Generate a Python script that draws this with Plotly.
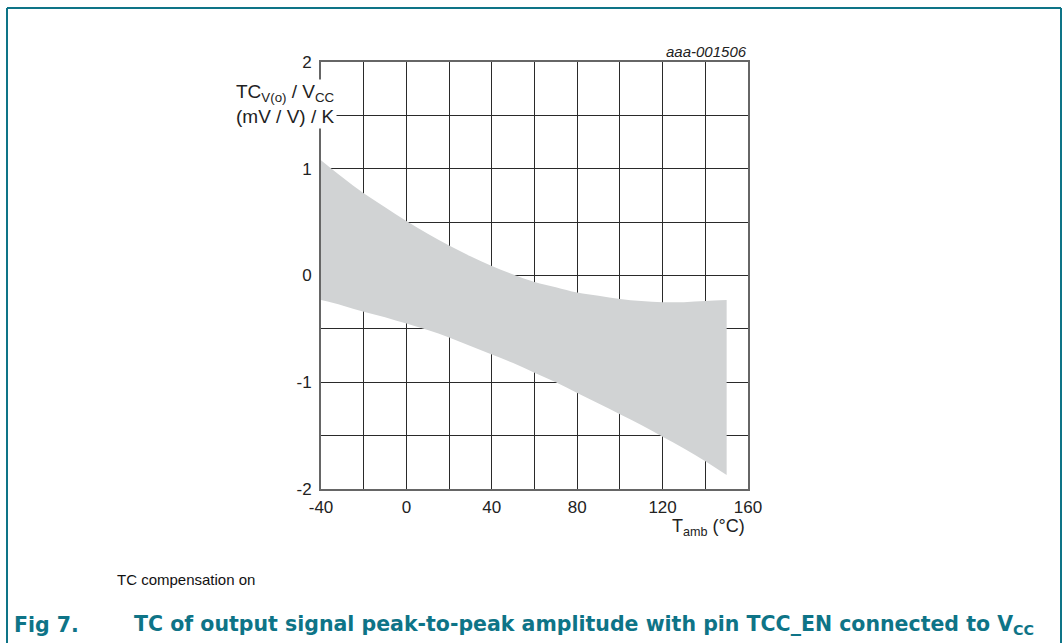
import plotly.graph_objects as go

# Data
temp = [-40, -30, -20, -10, 0, 10, 20, 30, 40, 50, 60, 70, 80, 90, 100, 110, 120, 130, 140, 150]
upper = [1.08, 0.92, 0.77, 0.64, 0.51, 0.39, 0.28, 0.18, 0.09, 0.01, -0.06, -0.11, -0.16, -0.19, -0.22, -0.24, -0.25, -0.25, -0.24, -0.23]
lower = [-0.23, -0.28, -0.34, -0.39, -0.45, -0.51, -0.58, -0.66, -0.74, -0.82, -0.91, -1.00, -1.10, -1.20, -1.30, -1.40, -1.51, -1.62, -1.74, -1.87]
x_ticks = [-40, 0, 40, 80, 120, 160]
y_ticks = [-2, -1, 0, 1, 2]

W, H = 1063, 643
L, R, T, B = 321, 748, 62, 489
TEAL = "#0e7487"
FONT = "Liberation Sans, Arial, sans-serif"
CAP_FONT = "DejaVu Sans, Liberation Sans, sans-serif"


def px(x):
    return (x - L) / (R - L)


def py(y):
    return (B - y) / (B - T)


fig = go.Figure()
fig.add_trace(go.Scatter(x=temp, y=upper, mode="lines", line=dict(width=0, shape="spline"),
                         hoverinfo="skip", showlegend=False))
fig.add_trace(go.Scatter(x=temp, y=lower, mode="lines", line=dict(width=0, shape="spline"),
                         fill="tonexty", fillcolor="#d1d3d4", hoverinfo="skip", showlegend=False))

fig.update_layout(
    width=W, height=H, autosize=False,
    margin=dict(l=L, r=W - R, t=T, b=H - B, pad=0),
    paper_bgcolor="white", plot_bgcolor="white",
    font=dict(family=FONT, size=17, color="#222"),
    xaxis=dict(range=[-40, 160], tickvals=x_ticks, ticktext=[str(v) for v in x_ticks],
               showgrid=True, gridcolor="#2a2a2a", gridwidth=1,
               minor=dict(dtick=20, tick0=-40, showgrid=True, gridcolor="#2a2a2a", gridwidth=1),
               zeroline=False, showline=True, linecolor="#666", linewidth=2, mirror=True,
               ticks="", ticklabelstandoff=2, fixedrange=True, layer="above traces"),
    yaxis=dict(range=[-2, 2], tickvals=y_ticks, ticktext=[str(v) for v in y_ticks],
               showgrid=True, gridcolor="#2a2a2a", gridwidth=1,
               minor=dict(dtick=0.5, tick0=-2, showgrid=True, gridcolor="#2a2a2a", gridwidth=1),
               zeroline=False, showline=True, linecolor="#666", linewidth=2, mirror=True,
               ticks="", ticklabelstandoff=4, fixedrange=True, layer="above traces"),
)

# Frame around figure (teal)
fig.add_shape(type="line", xref="paper", yref="paper", x0=px(7), x1=px(1061), y0=py(8), y1=py(8),
              line=dict(color=TEAL, width=2))
fig.add_shape(type="line", xref="paper", yref="paper", x0=px(7), x1=px(7), y0=py(8), y1=py(643),
              line=dict(color=TEAL, width=2))
fig.add_shape(type="line", xref="paper", yref="paper", x0=px(1061), x1=px(1061), y0=py(8), y1=py(643),
              line=dict(color=TEAL, width=2))

ann = [
    dict(x=px(337), y=py(104), xanchor="right", yanchor="middle", align="right",
         text="TC<sub>V(o)</sub> / V<sub>CC</sub><br>(mV / V) / K", bgcolor="white",
         font=dict(size=19, family=FONT, color="#222")),
    dict(x=px(749), y=py(52), xanchor="right", yanchor="middle",
         text="<i>aaa-001506</i>", font=dict(size=15, family=FONT, color="#222")),
    dict(x=px(747), y=py(527), xanchor="right", yanchor="middle",
         text="T<sub>amb</sub> (°C)", font=dict(size=18, family=FONT, color="#222")),
    dict(x=px(115), y=py(579), xanchor="left", yanchor="middle",
         text="TC compensation on", font=dict(size=15, family=FONT, color="#111")),
    dict(x=px(12), y=py(625), xanchor="left", yanchor="middle",
         text="<b>Fig 7.</b>", font=dict(size=20.5, family=CAP_FONT, color=TEAL)),
    dict(x=px(132), y=py(625), xanchor="left", yanchor="middle",
         text="<b>TC of output signal peak-to-peak amplitude with pin TCC_EN connected to V<sub>CC</sub></b>",
         font=dict(size=20.5, family=CAP_FONT, color=TEAL)),
]
for a in ann:
    fig.add_annotation(xref="paper", yref="paper", showarrow=False, **a)

fig.write_html("out.html", config={"displayModeBar": False},
               post_script="document.body.style.margin='0px';document.body.style.overflow='hidden';")
